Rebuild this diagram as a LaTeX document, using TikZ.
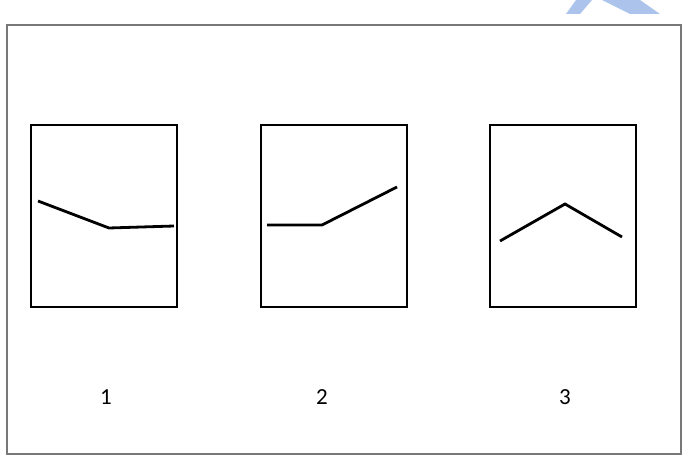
\documentclass[tikz,border=0pt]{standalone}
\usepackage{fontspec}
\setmainfont{Carlito}
\definecolor{wmblue}{RGB}{172,196,236}
\definecolor{framegray}{RGB}{120,120,120}
\begin{document}
\begin{tikzpicture}[x=1pt,y=-1pt,
  panel/.style={draw=black,line width=2.8pt,minimum width=146pt,minimum height=182pt,inner sep=0pt,outer sep=0pt},
  kinkline/.style={draw=black,line width=2.8pt,line join=miter},
  lbl/.style={font=\fontsize{23}{25}\selectfont,inner sep=0pt},
  framebox/.style={draw=framegray,line width=1.8pt}]
\useasboundingbox (0,0) rectangle (684,470);
\fill[white] (0,0) rectangle (684,470);
% watermark fragments
\fill[wmblue] (576,0) -- (592,0) -- (580,14) -- (566,14) -- cycle;
\fill[wmblue] (602,0) -- (640,0) -- (660,14) -- (630,14) -- cycle;
% outer frame
\node[framebox,minimum width=674pt,minimum height=429pt,inner sep=0pt] (fr) at (344,239.5) {};
% panels
\node[panel] (b1) at (104,216) {};
\node[panel] (b2) at (334,216) {};
\node[panel] (b3) at (563,216) {};
% polylines
\coordinate (p1a) at (38,201); \coordinate (p1b) at (109,228); \coordinate (p1c) at (174,226);
\coordinate (p2a) at (267,225); \coordinate (p2b) at (322,225); \coordinate (p2c) at (397,187);
\coordinate (p3a) at (500,241); \coordinate (p3b) at (565,204); \coordinate (p3c) at (622,237);
\draw[kinkline] (p1a) -- (p1b) -- (p1c);
\draw[kinkline] (p2a) -- (p2b) -- (p2c);
\draw[kinkline] (p3a) -- (p3b) -- (p3c);
% labels
\node[lbl] (l1) at (106,397) {1};
\node[lbl] (l2) at (322,397) {2};
\node[lbl] (l3) at (565,397) {3};
\end{tikzpicture}
\end{document}
